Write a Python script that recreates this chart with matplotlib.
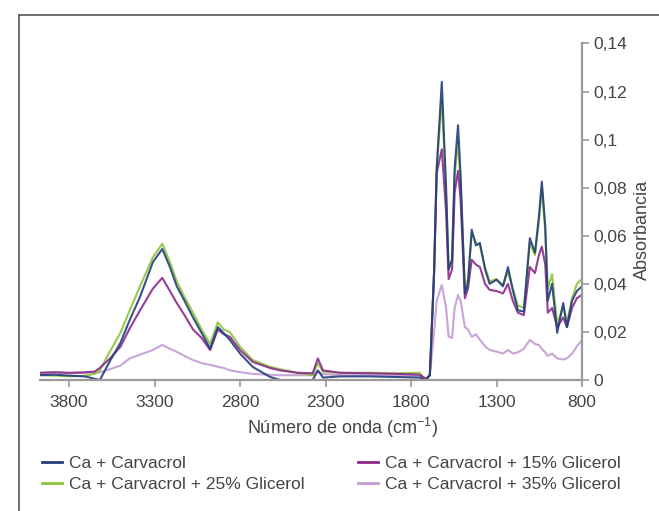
import matplotlib
matplotlib.use("Agg")
import matplotlib.pyplot as plt
from matplotlib.lines import Line2D

plt.rcParams['font.family'] = ['Liberation Sans', 'DejaVu Sans']
plt.rcParams['mathtext.default'] = 'regular'

# Data
wavenumber = [3970, 3880, 3795, 3707, 3650, 3620, 3560, 3500, 3445, 3385,
              3310, 3255, 3210, 3170, 3125, 3075, 3025, 2975, 2930, 2895,
              2860, 2800, 2725, 2625, 2565, 2465, 2375, 2345, 2315, 2215,
              2040, 1865, 1750, 1713, 1690, 1665, 1650, 1620, 1595, 1580,
              1560, 1545, 1525, 1510, 1485, 1467, 1445, 1420, 1397, 1367,
              1340, 1300, 1262, 1233, 1205, 1175, 1140, 1105, 1075, 1052,
              1035, 1015, 1000, 975, 945, 910, 888, 858, 830, 800]

ca_carvacrol = [0.0020, 0.0022, 0.0018, 0.0015, 0.0005, 0.0000, 0.0080, 0.0154, 0.0250, 0.0346,
                0.0490, 0.0545, 0.0470, 0.0390, 0.0330, 0.0260, 0.0196, 0.0130, 0.0220, 0.0195,
                0.0167, 0.0110, 0.0054, 0.0013, 0.0000, 0.0000, 0.0000, 0.0040, 0.0010, 0.0015,
                0.0015, 0.0012, 0.0010, 0.0000, 0.0020, 0.0450, 0.0880, 0.1240, 0.0800, 0.0460,
                0.0500, 0.0880, 0.1060, 0.0850, 0.0360, 0.0400, 0.0625, 0.0560, 0.0570, 0.0460,
                0.0400, 0.0417, 0.0390, 0.0470, 0.0375, 0.0290, 0.0285, 0.0590, 0.0530, 0.0680,
                0.0825, 0.0640, 0.0330, 0.0400, 0.0196, 0.0320, 0.0220, 0.0330, 0.0370, 0.0390]

glicerol_15 = [0.0030, 0.0032, 0.0030, 0.0032, 0.0035, 0.0050, 0.0090, 0.0138, 0.0215, 0.0290,
               0.0380, 0.0425, 0.0370, 0.0320, 0.0270, 0.0210, 0.0175, 0.0125, 0.0210, 0.0190,
               0.0180, 0.0125, 0.0075, 0.0050, 0.0040, 0.0030, 0.0028, 0.0090, 0.0040, 0.0030,
               0.0028, 0.0025, 0.0022, 0.0005, 0.0020, 0.0450, 0.0860, 0.0960, 0.0700, 0.0420,
               0.0460, 0.0780, 0.0870, 0.0750, 0.0340, 0.0380, 0.0500, 0.0480, 0.0470, 0.0400,
               0.0375, 0.0370, 0.0360, 0.0400, 0.0330, 0.0280, 0.0270, 0.0470, 0.0445, 0.0520,
               0.0555, 0.0480, 0.0280, 0.0300, 0.0220, 0.0260, 0.0220, 0.0300, 0.0340, 0.0355]

glicerol_25 = [0.0020, 0.0018, 0.0015, 0.0018, 0.0025, 0.0040, 0.0120, 0.0196, 0.0290, 0.0390,
               0.0510, 0.0567, 0.0490, 0.0410, 0.0345, 0.0280, 0.0210, 0.0150, 0.0240, 0.0210,
               0.0200, 0.0138, 0.0083, 0.0055, 0.0045, 0.0030, 0.0020, 0.0070, 0.0035, 0.0030,
               0.0030, 0.0028, 0.0030, 0.0000, 0.0020, 0.0450, 0.0880, 0.1170, 0.0780, 0.0460,
               0.0500, 0.0850, 0.0990, 0.0820, 0.0380, 0.0420, 0.0610, 0.0570, 0.0560, 0.0470,
               0.0410, 0.0420, 0.0395, 0.0450, 0.0380, 0.0310, 0.0300, 0.0570, 0.0520, 0.0660,
               0.0800, 0.0620, 0.0380, 0.0440, 0.0230, 0.0310, 0.0240, 0.0340, 0.0400, 0.0420]

glicerol_35 = [0.0030, 0.0032, 0.0028, 0.0030, 0.0030, 0.0032, 0.0045, 0.0060, 0.0090, 0.0105,
               0.0125, 0.0146, 0.0130, 0.0117, 0.0100, 0.0083, 0.0070, 0.0063, 0.0055, 0.0050,
               0.0040, 0.0033, 0.0025, 0.0022, 0.0020, 0.0020, 0.0020, 0.0035, 0.0025, 0.0020,
               0.0020, 0.0018, 0.0018, 0.0005, 0.0020, 0.0200, 0.0330, 0.0395, 0.0300, 0.0180,
               0.0175, 0.0300, 0.0354, 0.0330, 0.0220, 0.0210, 0.0180, 0.0190, 0.0167, 0.0140,
               0.0125, 0.0118, 0.0110, 0.0125, 0.0110, 0.0115, 0.0130, 0.0167, 0.0150, 0.0145,
               0.0130, 0.0115, 0.0100, 0.0110, 0.0090, 0.0085, 0.0090, 0.0110, 0.0140, 0.0165]

series = [
    ("Ca + Carvacrol", ca_carvacrol, "#243f7c"),
    ("Ca + Carvacrol + 15% Glicerol", glicerol_15, "#8a2a8a"),
    ("Ca + Carvacrol + 25% Glicerol", glicerol_25, "#8cc43c"),
    ("Ca + Carvacrol + 35% Glicerol", glicerol_35, "#c39bd3"),
]

x_ticks = [3800, 3300, 2800, 2300, 1800, 1300, 800]
y_ticks = [0, 0.02, 0.04, 0.06, 0.08, 0.1, 0.12, 0.14]
y_ticklabels = ["0", "0,02", "0,04", "0,06", "0,08", "0,1", "0,12", "0,14"]

W, H = 659, 511
fig = plt.figure(figsize=(W / 100, H / 100), dpi=100)
ax = fig.add_axes([40 / W, 1 - 380 / H, (582 - 40) / W, (380 - 43.5) / H])

# draw order: lilac under, blue on top
for name, vals, col in [series[3], series[2], series[1], series[0]]:
    ax.plot(wavenumber, vals, color=col, lw=1.5, alpha=0.9)

ax.set_xlim(3970, 800)
ax.set_ylim(0, 0.14)
ax.set_xticks(x_ticks)
ax.set_xticklabels([str(t) for t in x_ticks])
ax.set_yticks(y_ticks)
ax.set_yticklabels(y_ticklabels)
ax.yaxis.tick_right()
ax.yaxis.set_label_position("right")

for s in ["top", "left"]:
    ax.spines[s].set_visible(False)
for s in ["bottom", "right"]:
    ax.spines[s].set_color("#9a9a9a")
    ax.spines[s].set_linewidth(1.6)
ax.tick_params(colors="#9a9a9a", length=5, width=1.2, labelcolor="#444444", labelsize=12.5)
ax.tick_params(axis="x", pad=6)
ax.tick_params(axis="y", pad=3)

ax.set_ylabel("Absorbancia", fontsize=13, color="#444444")
ax.yaxis.set_label_coords(1.095, 0.446)

fig.text(343 / W, 1 - 428 / H, "Número de onda (cm$^{-1}$)", ha="center", va="center",
         fontsize=13, color="#444444")

# legend: two columns, filled column-wise
colors = {n: c for n, _, c in series}
order = [series[0][0], series[2][0], series[1][0], series[3][0]]
leg_handles = [Line2D([], [], color=colors[n], lw=2) for n in order]
fig.legend(leg_handles, order, loc="upper left", bbox_to_anchor=(42 / W, 1 - 456 / H),
           ncol=2, frameon=False, fontsize=12.5, borderpad=0, borderaxespad=0,
           handlelength=1.15, handletextpad=0.4, columnspacing=3.1, labelspacing=0.33,
           labelcolor="#444444")

# outer frame (top and left edges of the original box)
fig.add_artist(Line2D([19 / W, 1], [1 - 15 / H, 1 - 15 / H], color="#555555", lw=1.2,
                      transform=fig.transFigure))
fig.add_artist(Line2D([19 / W, 19 / W], [1 - 15 / H, 0], color="#555555", lw=1.2,
                      transform=fig.transFigure))

fig.savefig("out.png", dpi=100)
